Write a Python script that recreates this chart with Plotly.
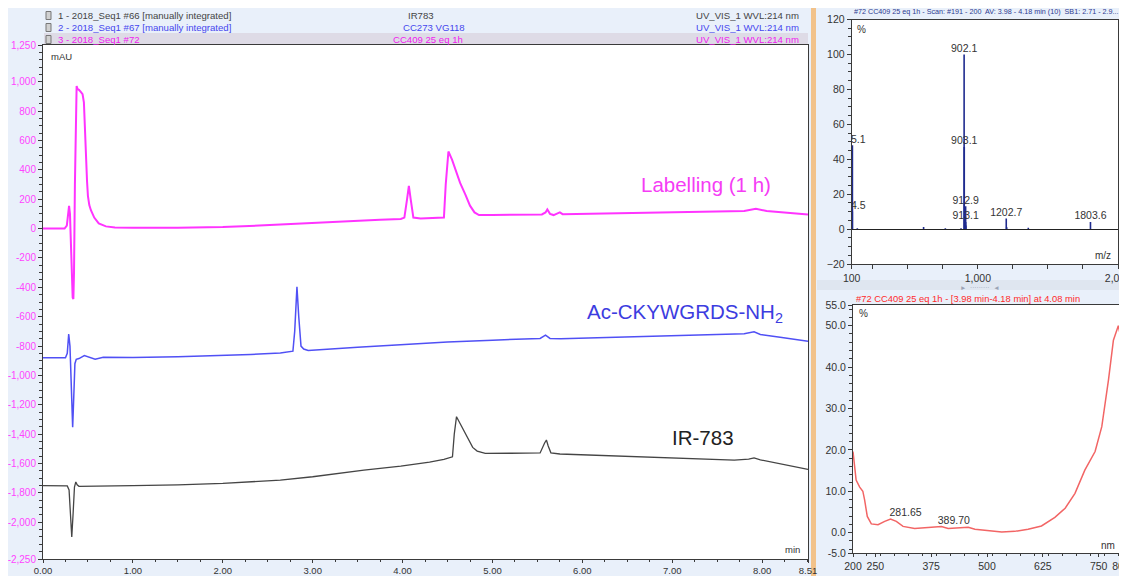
import plotly.graph_objects as go

W, H = 1127, 576
OFF = 8                      # default page margin around the plot div
FW, FH = W - OFF, H - OFF    # figure size that fits the window

# --- chromatograms: time (min) / absorbance (mAU) ---
lab_t = [0.00, 0.24, 0.265, 0.28, 0.29, 0.30, 0.315, 0.33, 0.338, 0.345, 0.355, 0.365, 0.374,
         0.385, 0.40, 0.42, 0.44, 0.455, 0.467, 0.478, 0.49, 0.50, 0.515, 0.533, 0.57, 0.62,
         0.70, 0.80, 1.00, 1.50, 2.00, 2.64, 3.20, 3.75, 3.98, 4.02, 4.05, 4.07, 4.09, 4.12,
         4.20, 4.40, 4.46, 4.48, 4.51, 4.55, 4.60, 4.64, 4.70, 4.75, 4.80, 4.85, 5.00, 5.30,
         5.55, 5.59, 5.61, 5.64, 5.68, 5.73, 5.75, 5.78, 6.00, 6.54, 7.00, 7.50, 7.80, 7.93,
         8.05, 8.51]
lab_mau = [0, 0, 20, 110, 155, 100, -200, -470, -480, -300, 300, 800, 970,
           950, 945, 930, 915, 860, 640, 460, 320, 220, 160, 125, 75, 35,
           15, 8, 5, 5, 10, 27, 45, 60, 65, 75, 200, 290, 200, 75,
           68, 70, 75, 300, 525, 470, 380, 311, 230, 156, 110, 92, 93, 95,
           96, 110, 130, 100, 92, 105, 110, 98, 100, 107, 112, 115, 120, 135,
           120, 95]

pep_t = [0.00, 0.25, 0.27, 0.286, 0.30, 0.315, 0.33, 0.342, 0.355, 0.37, 0.40, 0.46, 0.52,
         0.58, 0.67, 1.00, 1.50, 2.00, 2.31, 2.64, 2.78, 2.80, 2.825, 2.845, 2.87, 2.90,
         2.95, 3.50, 4.00, 4.50, 5.00, 5.53, 5.59, 5.64, 5.76, 6.87, 7.50, 7.80, 7.91, 7.98,
         8.20, 8.51]
pep_mau = [-880, -880, -850, -718, -800, -1100, -1352, -1150, -920, -890, -885, -865, -875,
           -890, -877, -878, -872, -865, -857, -848, -835, -700, -397, -600, -800, -820,
           -830, -808, -790, -772, -760, -748, -726, -748, -750, -733, -722, -716, -703, -721,
           -740, -768]

ir_t = [0.00, 0.27, 0.29, 0.305, 0.32, 0.335, 0.35, 0.365, 0.38, 0.40, 0.60, 1.00, 1.50,
        2.00, 2.64, 3.00, 3.57, 3.98, 4.30, 4.46, 4.555, 4.575, 4.60, 4.66, 4.72, 4.78,
        4.83, 4.92, 5.20, 5.53, 5.58, 5.60, 5.62, 5.65, 5.75, 6.57, 7.30, 7.69, 7.85, 7.91,
        7.98, 8.51]
ir_mau = [-1750, -1752, -1780, -1940, -2100, -1940, -1760, -1725, -1745, -1755, -1752, -1750, -1745,
          -1735, -1713, -1690, -1645, -1618, -1590, -1572, -1554, -1400, -1281, -1350, -1429, -1490,
          -1515, -1531, -1530, -1528, -1460, -1440, -1480, -1527, -1535, -1554, -1570, -1577, -1570, -1562,
          -1575, -1640]

y_ticks = [1250, 1000, 800, 600, 400, 200, 0, -200, -400, -600, -800, -1000, -1200,
           -1400, -1600, -1800, -2000, -2250]
x_ticks = [0, 1, 2, 3, 4, 5, 6, 7, 8, 8.51]

# --- mass spectrum: m/z / relative abundance (%) ---
ms_mz = [104.5, 105.1, 140, 613, 768, 880, 902.1, 903.1, 912.9, 913.1, 914.5,
         1202.7, 1206, 1360, 1803.6]
ms_int = [10, 48, 0.5, 1.2, 0.4, 0.5, 100, 47, 13, 4, 2,
          6, 1, 0.8, 4]
ms_lab = ['104.5', '105.1', '', '', '', '', '902.1', '903.1', '912.9', '913.1', '',
          '1202.7', '', '', '1803.6']

# --- UV spectrum: wavelength (nm) / % ---
uv_nm = [200, 204, 207, 215, 222, 226, 232, 241, 256, 271, 284, 297, 312, 338, 368,
         398, 413, 443, 458, 473, 503, 533, 562, 592, 622, 652, 675, 697, 719, 742,
         757, 772, 783, 794, 800]
uv_pct = [19.6, 16, 12.7, 11, 10, 7.9, 3.9, 2.1, 1.9, 2.7, 3.3, 2.7, 1.5, 1.0, 1.3,
          1.45, 1.0, 1.1, 1.3, 0.8, 0.5, 0.15, 0.3, 0.8, 1.6, 3.7, 5.9, 9.5, 15.1, 19.6,
          25.6, 36.9, 46.5, 50.0, 47]
uv_peak_nm = [281.65, 389.70]
uv_peak_pct = [3.3, 1.45]


# window pixel -> paper coordinates
def px(x):
    return (x - OFF) / FW


def py(y):
    return 1 - (y - OFF) / FH


FONT = 'Liberation Sans'
MAGENTA = '#ff33ff'
BLUE = '#5050f5'
GREY = '#454545'

fig = go.Figure()

fig.add_trace(go.Scatter(x=ir_t, y=ir_mau, mode='lines', line=dict(color=GREY, width=1.3),
                         xaxis='x', yaxis='y'))
fig.add_trace(go.Scatter(x=pep_t, y=pep_mau, mode='lines', line=dict(color=BLUE, width=1.5),
                         xaxis='x', yaxis='y'))
fig.add_trace(go.Scatter(x=lab_t, y=lab_mau, mode='lines', line=dict(color=MAGENTA, width=2),
                         xaxis='x', yaxis='y'))

# stick spectrum built from the peak list
sx, sy = [], []
for m, v in zip(ms_mz, ms_int):
    sx += [m, m, None]
    sy += [0, v, None]
fig.add_trace(go.Scatter(x=sx, y=sy, mode='lines', line=dict(color='#1f2b8f', width=1.6),
                         xaxis='x2', yaxis='y2'))
lab_idx = [i for i, s in enumerate(ms_lab) if s]
fig.add_trace(go.Scatter(x=[ms_mz[i] for i in lab_idx], y=[ms_int[i] for i in lab_idx],
                         mode='text', text=[ms_lab[i] for i in lab_idx], textposition='top center',
                         textfont=dict(family=FONT, size=10.5, color='#333'), cliponaxis=True,
                         xaxis='x2', yaxis='y2'))

fig.add_trace(go.Scatter(x=uv_nm, y=uv_pct, mode='lines', line=dict(color='#f26565', width=1.5),
                         xaxis='x3', yaxis='y3'))
fig.add_trace(go.Scatter(x=uv_peak_nm, y=uv_peak_pct, mode='text',
                         text=[f'{v:.2f}' for v in uv_peak_nm], textposition='top right',
                         textfont=dict(family=FONT, size=10.5, color='#333'),
                         xaxis='x3', yaxis='y3'))

axis_common = dict(showgrid=False, zeroline=False, showline=True, mirror=True, linecolor='#3a3a3a',
                   linewidth=1, ticks='outside', ticklen=4, tickcolor='#3a3a3a', automargin=False)

fig.update_layout(
    width=FW, height=FH, margin=dict(l=0, r=0, t=0, b=0, pad=0), showlegend=False,
    paper_bgcolor='#e9f0fa', plot_bgcolor='white',
    font=dict(family=FONT, size=10, color='#333'),
    xaxis=dict(axis_common, domain=[px(43), px(808)], range=[0, 8.51], anchor='y', ticklen=3,
               tickvals=x_ticks, ticktext=[f'{v:.2f}' for v in x_ticks],
               tickfont=dict(size=9.5, color='#333'), ticklabeloverflow='allow',
               minor=dict(tickmode='linear', tick0=0, dtick=0.25, ticklen=2, ticks='outside',
                          tickcolor='#3a3a3a')),
    yaxis=dict(axis_common, domain=[py(559), py(45)], range=[-2250, 1250], anchor='x',
               tickvals=y_ticks, ticktext=[f'{v:,}' for v in y_ticks],
               tickfont=dict(size=10, color='#ff44ff'),
               minor=dict(tickmode='linear', tick0=0, dtick=50, ticklen=3, ticks='outside',
                          tickcolor='#3a3a3a')),
    xaxis2=dict(axis_common, domain=[px(851.7), px(1118)], range=[100, 2000], anchor='y2',
                tickvals=[100, 1000, 2000], ticktext=['100', '1,000', '2,000'],
                tickfont=dict(size=10.5, color='#333'), ticklabeloverflow='allow',
                minor=dict(tickmode='array', tickvals=[250, 500, 750, 1250, 1500, 1750],
                           ticklen=4, ticks='outside', tickcolor='#3a3a3a')),
    yaxis2=dict(axis_common, domain=[py(264), py(19.5)], range=[-20, 120], anchor='x2',
                tickvals=list(range(-20, 121, 20)), zeroline=True, zerolinecolor='#222',
                zerolinewidth=1, tickfont=dict(size=10.5, color='#333'),
                minor=dict(tickmode='linear', tick0=0, dtick=5, ticklen=3, ticks='outside',
                           tickcolor='#3a3a3a')),
    xaxis3=dict(axis_common, domain=[px(853), px(1121)], range=[200, 800], anchor='y3', ticklen=3,
                tickvals=[200, 250, 375, 500, 625, 750, 800],
                tickfont=dict(size=10.5, color='#333'), ticklabeloverflow='allow',
                minor=dict(tickmode='linear', tick0=200, dtick=31.25, ticklen=2, ticks='outside',
                           tickcolor='#3a3a3a')),
    yaxis3=dict(axis_common, domain=[py(553.3), py(305)], range=[-5, 55], anchor='x3',
                tickvals=[55, 50, 40, 30, 20, 10, 0, -5],
                ticktext=['55.0', '50.0', '40.0', '30.0', '20.0', '10.0', '0.0', '-5.0'],
                tickfont=dict(size=10.5, color='#333'),
                minor=dict(tickmode='linear', tick0=0, dtick=2, ticklen=3, ticks='outside',
                           tickcolor='#3a3a3a')),
)

shapes = [
    # selected row of the header
    dict(type='rect', xref='paper', yref='paper', x0=px(44), x1=px(808), y0=py(45), y1=py(33),
         fillcolor='#dedbe6', line=dict(width=0), layer='below'),
    # orange splitter between main and side panels
    dict(type='rect', xref='paper', yref='paper', x0=px(811), x1=px(816), y0=0, y1=1,
         fillcolor='#f2c28a', line=dict(width=0), layer='below'),
    # separator band between the two side panels
    dict(type='rect', xref='paper', yref='paper', x0=px(817), x1=1, y0=py(290), y1=py(280),
         fillcolor='#dfe6f0', line=dict(width=0), layer='below'),
]
for yy in [15.5, 27.5, 39.5]:
    shapes.append(dict(type='rect', xref='paper', yref='paper', x0=px(46), x1=px(51),
                       y0=py(yy + 4), y1=py(yy - 4), fillcolor='#d0d0d0',
                       line=dict(color='#777', width=1)))
fig.update_layout(shapes=shapes)

ann = []


def note(text, x, y, size=10, color='#333', xanchor='left'):
    ann.append(dict(text=text, x=px(x), y=py(y), xref='paper', yref='paper', showarrow=False,
                    xanchor=xanchor, yanchor='middle',
                    font=dict(family=FONT, size=size, color=color)))


header = [
    ('1 - 2018_Seq1 #66 [manually integrated]', 'IR783', '#444', 15.5),
    ('2 - 2018_Seq1 #67 [manually integrated]', 'CC273 VG118', '#4646ee', 27.5),
    ('3 - 2018_Seq1 #72', 'CC409 25 eq 1h', '#f020f0', 39.5),
]
center_x = [421, 434, 428]
for (left, mid, col, yy), cx in zip(header, center_x):
    note(left, 56, yy, 9.6, col)
    note(mid, cx, yy, 9.6, col, 'center')
    note('UV_VIS_1 WVL:214 nm', 801, yy, 9.6, col, 'right')

note('mAU', 49, 56, 9.5, '#333')
note('min', 802, 549, 9.5, '#333', 'right')
note('#72 CC409 25 eq 1h - Scan: #191 - 200  AV: 3.98 - 4.18 min (10)  SB1: 2.71 - 2.9...',
     852, 12, 7.2, '#2b3990')
note('%', 855, 29, 10, '#333')
note('m/z', 1113, 256, 10, '#333', 'right')
note('#72 CC409 25 eq 1h - [3.98 min-4.18 min] at 4.08 min', 854, 298, 9.4, '#ff2a2a')
note('%', 857, 313, 10, '#333')
note('nm', 1117, 545, 10, '#333', 'right')
note('\u25ba  \u00b7\u00b7\u00b7\u00b7\u00b7\u00b7\u00b7\u00b7\u00b7  \u25c4', 980, 287, 6.5, '#9aa3b5', 'center')

# trace labels in data coordinates
ann.append(dict(text='Labelling (1 h)', x=7.37, y=300, xref='x', yref='y', showarrow=False,
                font=dict(family=FONT, size=20.5, color='#f53cf5')))
ann.append(dict(text='Ac-CKYWGRDS-NH<sub>2</sub>', x=7.14, y=-575, xref='x', yref='y',
                showarrow=False, font=dict(family=FONT, size=20.5, color='#3c3ce0')))
ann.append(dict(text='IR-783', x=7.34, y=-1420, xref='x', yref='y', showarrow=False,
                font=dict(family=FONT, size=20.5, color='#222')))

fig.update_layout(annotations=ann)

fig.write_html("out.html")
